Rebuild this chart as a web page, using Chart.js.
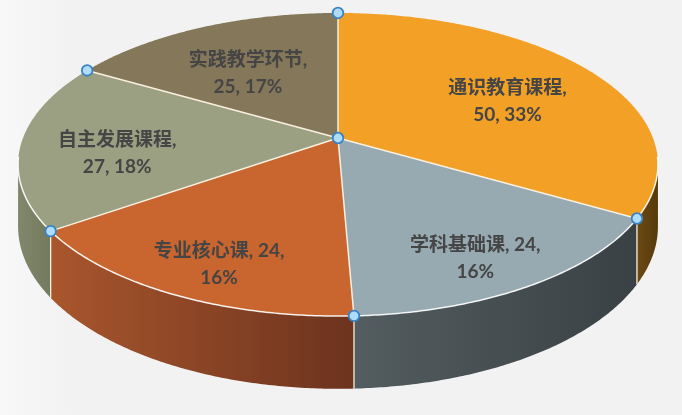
<!DOCTYPE html>
<html>
<head>
<meta charset="utf-8">
<script src="https://cdn.jsdelivr.net/npm/chart.js@4/dist/chart.umd.min.js"></script>
<style>
html,body{margin:0;padding:0;background:#f2f2f2;}
#wrap{width:682px;height:415px;position:relative;}
</style>
</head>
<body>
<div id="wrap"><canvas id="c"></canvas></div>
<script>
// ---- data ----
const categories = ['通识教育课程', '学科基础课', '专业核心课', '自主发展课程', '实践教学环节'];
const values = [50, 24, 24, 27, 25];

// ---- styles ----
const topColors = ['#f2a126', '#97a9b1', '#c9652e', '#9aa081', '#85775a'];
const sideColors = [
  ['#6c4a14', '#563a0b'],
  ['#535c5f', '#394144'],
  ['#a9562d', '#6c331e'],
  ['#80876a', '#737a5e'],
  ['#6e6248', '#5e5440']
];
const edgeColor = '#fbefe0';

const K = 0.175;          // perspective strength
const AX = 315 / 138;     // horizontal scale vs radius
const BY = 146.9 / 138;   // vertical scale vs radius
const DEPTH = 60 / 138;   // wall depth vs radius

function proj(g, r, th) {
  const s = r * Math.sin(th), c = r * Math.cos(th);
  const w = 1 + K * c;
  return [g.cx + g.A * s / w, g.cy - g.B * c / w, w];
}

const pie3d = {
  id: 'pie3d',
  beforeDraw(chart) {
    const ctx = chart.ctx;
    const grd = ctx.createLinearGradient(0, 0, 70, 0);
    grd.addColorStop(0, '#f8f8f8');
    grd.addColorStop(1, '#f2f2f2');
    ctx.save();
    ctx.fillStyle = grd;
    ctx.fillRect(0, 0, chart.width, chart.height);
    ctx.restore();
  },
  beforeDatasetsDraw(chart) {
    const ctx = chart.ctx;
    const meta = chart.getDatasetMeta(0);
    const els = meta.data;
    if (!els.length) return false;
    const R = els[0].outerRadius;
    const g = { cx: els[0].x, cy: els[0].y, A: R * AX, B: R * BY, D: R * DEPTH };
    const total = values.reduce((a, b) => a + b, 0);
    const arcs = els.map((el, i) => ({ a: el.startAngle + Math.PI / 2, b: el.endAngle + Math.PI / 2, i }));
    const STEP = Math.PI / 360;
    const visA = Math.acos(-K), visB = 2 * Math.PI - Math.acos(-K);

    function rimPts(a, b, dy) {
      const pts = [];
      const n = Math.max(2, Math.ceil((b - a) / STEP));
      for (let j = 0; j <= n; j++) {
        const t = a + (b - a) * j / n;
        const p = proj(g, 1, t);
        pts.push([p[0], p[1] + (dy ? g.D / p[2] : 0)]);
      }
      return pts;
    }

    ctx.save();
    // side walls
    arcs.forEach(s => {
      const a = Math.max(s.a, visA), b = Math.min(s.b, visB);
      if (b <= a) return;
      const top = rimPts(a, b, false);
      const bot = rimPts(a, b, true).reverse();
      const all = top.concat(bot);
      const xs = all.map(p => p[0]);
      const x0 = Math.min(...xs), x1 = Math.max(...xs);
      const grd = ctx.createLinearGradient(x0, 0, x1, 0);
      grd.addColorStop(0, sideColors[s.i][0]);
      grd.addColorStop(1, sideColors[s.i][1]);
      ctx.beginPath();
      all.forEach((p, j) => j ? ctx.lineTo(p[0], p[1]) : ctx.moveTo(p[0], p[1]));
      ctx.closePath();
      ctx.fillStyle = grd;
      ctx.fill();
    });
    // vertical wall edges at boundaries
    ctx.strokeStyle = edgeColor;
    ctx.lineWidth = 1.3;
    arcs.forEach(s => {
      const t = s.a;
      if (t > visA && t < visB) {
        const p = proj(g, 1, t);
        ctx.beginPath();
        ctx.moveTo(p[0], p[1]);
        ctx.lineTo(p[0], p[1] + g.D / p[2]);
        ctx.stroke();
      }
    });
    // top faces
    arcs.forEach(s => {
      const pts = rimPts(s.a, s.b, false);
      ctx.beginPath();
      ctx.moveTo(g.cx, g.cy);
      pts.forEach(p => ctx.lineTo(p[0], p[1]));
      ctx.closePath();
      ctx.fillStyle = topColors[s.i];
      ctx.fill();
    });
    // edges on top
    ctx.strokeStyle = edgeColor;
    ctx.lineWidth = 1.5;
    arcs.forEach(s => {
      const p = proj(g, 1, s.a);
      ctx.beginPath();
      ctx.moveTo(g.cx, g.cy);
      ctx.lineTo(p[0], p[1]);
      ctx.stroke();
    });
    // front rim highlight
    const rim = rimPts(visA - 0.05, visB + 0.05, false);
    ctx.beginPath();
    rim.forEach((p, j) => j ? ctx.lineTo(p[0], p[1]) : ctx.moveTo(p[0], p[1]));
    ctx.strokeStyle = 'rgba(255,255,255,0.9)';
    ctx.lineWidth = 1.5;
    ctx.stroke();

    // labels
    ctx.fillStyle = '#454545';
    ctx.font = 'bold 19px "Lato", "Noto Sans CJK SC", sans-serif';
    ctx.textAlign = 'center';
    ctx.textBaseline = 'middle';
    arcs.forEach(s => {
      const mid = (s.a + s.b) / 2;
      const th = mid + (6 * Math.PI / 180) * Math.sin(mid);
      const r = 0.69 - 0.14 * Math.cos(mid);
      const p = proj(g, r, th);
      const v = values[s.i];
      const pct = Math.round(v / total * 100) + '%';
      const name = categories[s.i];
      let l1, l2;
      if (name.length >= 6) { l1 = name + ','; l2 = v + ', ' + pct; }
      else { l1 = name + ', ' + v + ','; l2 = pct; }
      ctx.fillText(l1, p[0], p[1] - 13.5);
      ctx.fillText(l2, p[0], p[1] + 13.5);
    });

    // selection handles
    const handles = [[g.cx, g.cy]].concat(arcs.map(s => proj(g, 1, s.a)));
    handles.forEach(p => {
      ctx.beginPath();
      ctx.arc(p[0], p[1], 5.3, 0, Math.PI * 2);
      ctx.fillStyle = '#aedcfb';
      ctx.fill();
      ctx.strokeStyle = '#3a82c4';
      ctx.lineWidth = 1.8;
      ctx.stroke();
    });
    ctx.restore();
    return false;
  }
};

new Chart(document.getElementById('c'), {
  type: 'pie',
  data: {
    labels: categories,
    datasets: [{ data: values, backgroundColor: topColors, borderWidth: 0 }]
  },
  options: {
    responsive: true,
    maintainAspectRatio: false,
    animation: false,
    events: [],
    layout: { padding: { left: 0, right: 6, top: 0, bottom: 139 } },
    plugins: { legend: { display: false }, tooltip: { enabled: false } }
  },
  plugins: [pie3d]
});
</script>
</body>
</html>
